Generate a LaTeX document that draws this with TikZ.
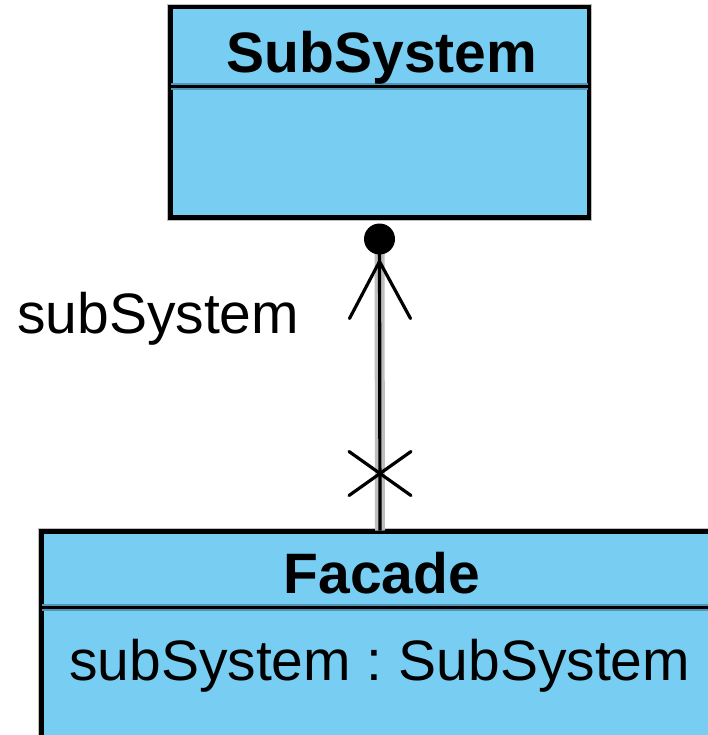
\documentclass[tikz,border=0pt]{standalone}
\usepackage{fontspec}
\setmainfont{Liberation Sans}
\usetikzlibrary{calc}
\definecolor{boxblue}{RGB}{120,206,242}
\definecolor{halo}{RGB}{190,190,190}
\definecolor{darkblue}{RGB}{80,150,185}
\frenchspacing
\tikzset{
  classbox/.style={rectangle, fill=boxblue, draw=black, line width=3pt, inner sep=0pt},
  boxhalo/.style={draw=halo, line width=8pt},
  bigtext/.style={font=\fontsize{57}{68}\selectfont, inner sep=0pt, text=black},
  boldtext/.style={font=\fontsize{57}{68}\selectfont\bfseries, inner sep=0pt, text=black},
  divider/.style={line width=3pt, draw=black},
  dividerhalo/.style={line width=7pt, draw=darkblue},
  assoc/.style={line width=3.2pt, draw=black},
  assochalo/.style={line width=10pt, draw=halo}
}
\begin{document}
\begin{tikzpicture}[x=1pt, y=-1pt]
\useasboundingbox (0,0) rectangle (708,735);
\fill[white] (0,0) rectangle (708,735);
% halos
\draw[boxhalo] (171,8) rectangle (588,217);
\draw[boxhalo] (42,532) rectangle (718,770);
% class boxes
\node[classbox, minimum width=417pt, minimum height=209pt] (ss) at (379.5,112.5) {};
\node[classbox, minimum width=676pt, minimum height=238pt] (fac) at (380,651) {};
% dividers
\coordinate (ssdl) at ($(ss.north west)+(0,80)$);
\coordinate (ssdr) at ($(ss.north east)+(0,80)$);
\draw[dividerhalo] ($(ssdl)+(1.5,0)$) -- ($(ssdr)+(-1.5,0)$);
\draw[divider] (ssdl) -- (ssdr);
\coordinate (facdl) at ($(fac.north west)+(0,77)$);
\coordinate (facdr) at ($(fac.north east)+(0,77)$);
\draw[dividerhalo] ($(facdl)+(1.5,0)$) -- ($(facdr)+(-1.5,0)$);
\draw[divider] (facdl) -- (facdr);
\draw[line width=3pt] (ss.north west) rectangle (ss.south east);
\draw[line width=3pt] (fac.north west) rectangle (fac.south east);
% texts
\node[boldtext, anchor=base] (sst) at (382,73) {SubSystem};
\node[boldtext, anchor=base] (fact) at (382,593) {Facade};
\node[bigtext, anchor=base west] (faca) at (69,680) {subSystem : SubSystem};
\node[bigtext, anchor=base west] (role) at (17,333) {subSystem};
% association
\coordinate (dotc) at ($(ss.south)+(0,20.5)$);
\coordinate (tip) at ($(ss.south)+(0,43)$);
\coordinate (xc) at ($(fac.north)+(0,-57)$);
\draw[assochalo] (dotc) -- (fac.north);
\draw[assoc] (dotc) -- (fac.north);
\fill[black] (dotc) circle (15.5pt);
\draw[assoc, line cap=round] ($(tip)+(-30,57)$) -- (tip) -- ($(tip)+(31,57)$);
\draw[assoc, line cap=round] ($(xc)+(-31,-22)$) -- ($(xc)+(31,22)$);
\draw[assoc, line cap=round] ($(xc)+(-31,22)$) -- ($(xc)+(31,-22)$);
\end{tikzpicture}
\end{document}
